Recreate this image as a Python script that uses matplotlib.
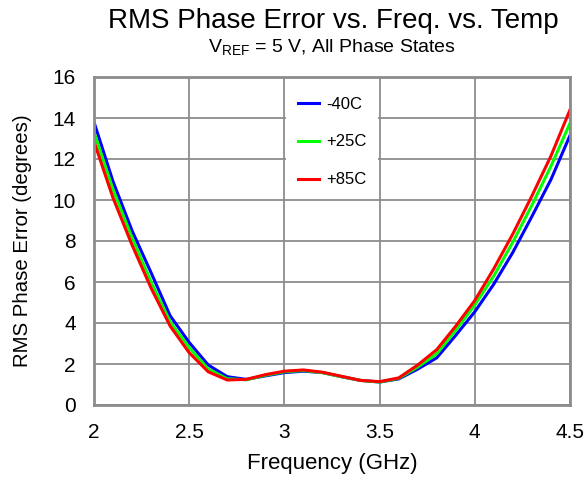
import matplotlib
matplotlib.use("Agg")
import matplotlib.pyplot as plt

freq = [2.0, 2.1, 2.2, 2.3, 2.4, 2.5, 2.6, 2.7, 2.8, 2.9, 3.0, 3.1, 3.2,
        3.3, 3.4, 3.5, 3.6, 3.7, 3.8, 3.9, 4.0, 4.1, 4.2, 4.3, 4.4, 4.5]
m40 = [13.8, 10.9, 8.5, 6.45, 4.35, 3.05, 1.95, 1.38, 1.25, 1.42, 1.58, 1.65, 1.58,
       1.38, 1.2, 1.12, 1.27, 1.75, 2.3, 3.4, 4.55, 5.9, 7.45, 9.2, 11.0, 13.15]
p25 = [13.3, 10.5, 8.15, 6.0, 4.05, 2.8, 1.75, 1.28, 1.23, 1.45, 1.62, 1.68, 1.58,
       1.38, 1.2, 1.12, 1.3, 1.85, 2.5, 3.65, 4.88, 6.3, 7.95, 9.75, 11.65, 13.75]
p85 = [12.85, 10.1, 7.8, 5.7, 3.85, 2.55, 1.62, 1.22, 1.25, 1.48, 1.65, 1.71, 1.6,
       1.4, 1.2, 1.14, 1.32, 1.95, 2.7, 3.85, 5.1, 6.65, 8.35, 10.2, 12.15, 14.4]
labels = ["-40C", "+25C", "+85C"]
colors = ["#0000ff", "#00ff00", "#ff0000"]
xticks = [2, 2.5, 3, 3.5, 4, 4.5]
xticklabels = ["2", "2.5", "3", "3.5", "4", "4.5"]
yticks = [0, 2, 4, 6, 8, 10, 12, 14, 16]

plt.rcParams['font.family'] = ['Liberation Sans', 'DejaVu Sans']

W, H = 587, 478
fig = plt.figure(figsize=(W / 100, H / 100), dpi=100)
ax = fig.add_axes([94 / W, 1 - 405 / H, 476 / W, 328 / H])

for ys, lab, c in zip([m40, p25, p85], labels, colors):
    ax.plot(freq, ys, color=c, lw=2.2, label=lab)

ax.set_xlim(2, 4.5)
ax.set_ylim(0, 16)
ax.set_xticks(xticks)
ax.set_xticklabels(xticklabels)
ax.set_yticks(yticks)
ax.tick_params(axis='x', length=0, labelsize=15, pad=13)
ax.tick_params(axis='y', length=0, labelsize=15, pad=13)
ax.grid(True, color='#8c8c8c', lw=1.3)
ax.set_axisbelow(True)
for s in ax.spines.values():
    s.set_color('#8c8c8c')
    s.set_linewidth(2)

ax.set_xlabel("Frequency (GHz)", fontsize=16, va='center')
ax.xaxis.set_label_coords(0.5, (405 - 463) / 328)
ax.set_ylabel("RMS Phase Error (degrees)", fontsize=14.7, va='center')
ax.yaxis.set_label_coords((22 - 94) / 476, 0.5)

leg = ax.legend(loc='upper left', bbox_to_anchor=((286 - 94) / 476, (405 - 85) / 328),
                frameon=True, fontsize=12, handlelength=1.3, labelspacing=1.37,
                borderpad=0.7, handletextpad=0.4, borderaxespad=0)
leg.get_frame().set_edgecolor('none')
leg.get_frame().set_facecolor('white')
leg.get_frame().set_alpha(1)
leg.get_frame().set_boxstyle('square', pad=0)

fig.text(333 / W, 1 - 28 / H, "RMS Phase Error vs. Freq. vs. Temp",
         ha='center', va='baseline', fontsize=20)
fig.text(332 / W, 1 - 53 / H, r"V$_{\mathregular{REF}}$ = 5 V, All Phase States",
         ha='center', va='baseline', fontsize=14)

fig.savefig("out.png", dpi=100)
